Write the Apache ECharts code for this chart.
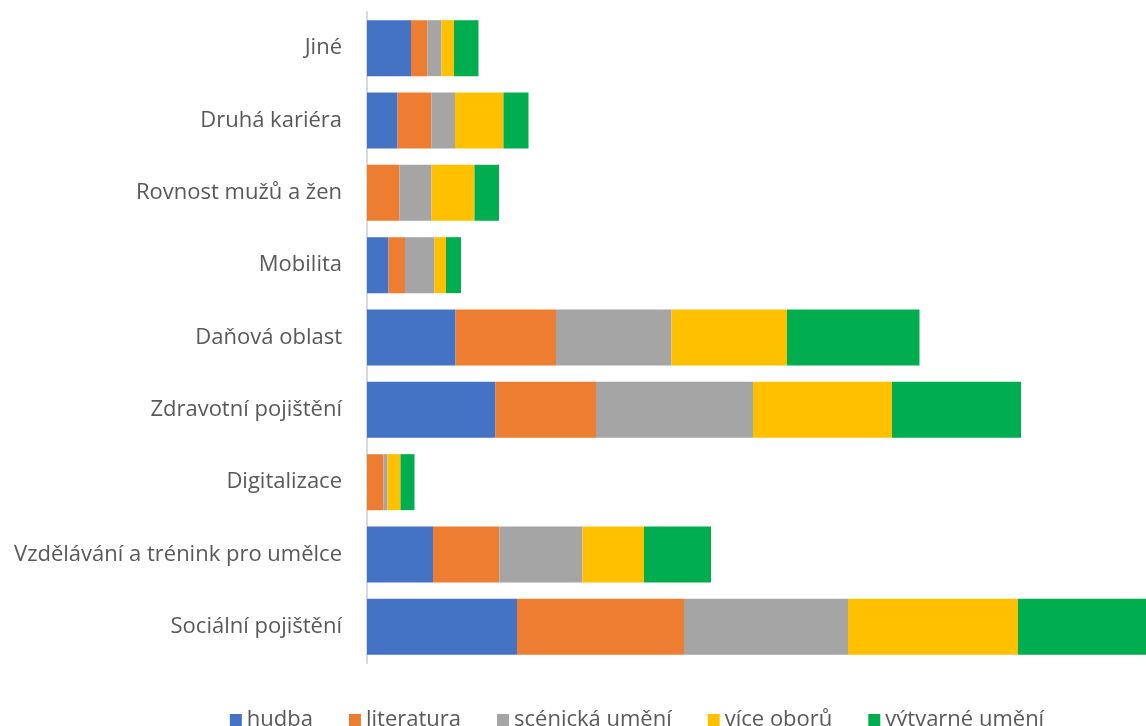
<!DOCTYPE html>
<html>
<head>
<meta charset="utf-8">
<script src="https://cdn.jsdelivr.net/npm/echarts@6/dist/echarts.min.js"></script>
<style>
  html, body { margin: 0; padding: 0; overflow: hidden; background: #fff; }
  #chart { width: 1274px; height: 726px; }
</style>
</head>
<body>
<div id="chart"></div>
<script>
// categories bottom -> top
const categories = ['Sociální pojištění', 'Vzdělávání a trénink pro umělce', 'Digitalizace', 'Zdravotní pojištění', 'Daňová oblast', 'Mobilita', 'Rovnost mužů a žen', 'Druhá kariéra', 'Jiné']

const hudba = [30, 13.2, 0, 25.7, 17.7, 4.3, 0, 6.1, 8.8]
const literatura = [33.4, 13.3, 3.3, 20.1, 20.1, 3.3, 6.5, 6.8, 3.3]
const scenicka = [32.8, 16.6, 0.8, 31.4, 23.1, 5.9, 6.4, 4.7, 2.8]
const viceOboru = [34, 12.3, 2.6, 27.8, 23.1, 2.3, 8.6, 9.7, 2.5]
const vytvarne = [27, 13.4, 2.8, 25.8, 26.5, 3, 4.9, 5, 4.9]

const seriesNames = ['hudba', 'literatura', 'scénická umění', 'více oborů', 'výtvarné umění']
const seriesData = [hudba, literatura, scenicka, viceOboru, vytvarne]
const colors = ['#4472c4', '#ed7d31', '#a5a5a5', '#ffc000', '#00ad4f']

const chart = echarts.init(document.getElementById('chart'))

chart.setOption({
  animation: false,
  color: colors,
  textStyle: { fontFamily: 'Open Sans' },
  grid: {
    left: 367,
    right: 7,
    top: 12,
    height: 651
  },
  legend: {
    data: seriesNames,
    top: 704,
    left: 'center',
    icon: 'rect',
    itemWidth: 12,
    itemHeight: 12,
    itemGap: 36,
    textStyle: { fontSize: 22, color: '#595959', fontFamily: 'Open Sans' }
  },
  xAxis: {
    type: 'value',
    min: 0,
    max: 180,
    show: false
  },
  yAxis: {
    type: 'category',
    data: categories,
    axisLine: { lineStyle: { color: '#d9d9d9', width: 2 } },
    axisTick: { show: false },
    axisLabel: { color: '#595959', fontSize: 22, margin: 25, fontFamily: 'Open Sans' }
  },
  series: seriesNames.map((name, i) => ({
    name: name,
    type: 'bar',
    stack: 'total',
    barWidth: 56,
    data: seriesData[i]
  }))
})
</script>
</body>
</html>
